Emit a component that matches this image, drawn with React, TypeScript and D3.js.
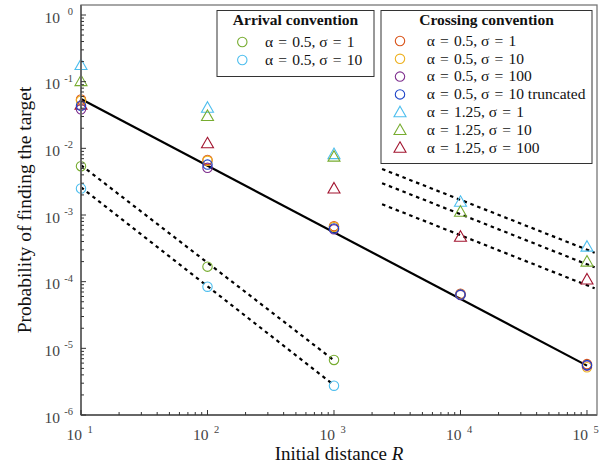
import React from 'react'
import * as d3 from 'd3'

// values
const R = [10, 100, 1000, 10000, 100000]
const R_ARRIVAL = [10, 100, 1000]

const arrivalS1 = [0.0054, 1.68e-4, 6.7e-6]
const arrivalS10 = [0.0025, 8.4e-5, 2.75e-6]

const crossA05S1 = [0.054, 0.0067, 6.8e-4, 6.6e-5, 5.8e-6]
const crossA05S10 = [0.052, 0.0065, 6.6e-4, 6.4e-5, 5.2e-6]
const crossA05S100 = [0.0385, 0.0051, 6.1e-4, 6.3e-5, 5.5e-6]
const crossA05S10trunc = [0.0436, 0.0057, 6.3e-4, 6.4e-5, 5.6e-6]
const crossA125S1 = [0.178, 0.0407, 0.0082, 0.00158, 3.35e-4]
const crossA125S10 = [0.102, 0.0306, 0.0075, 0.00112, 2.0e-4]
const crossA125S100 = [0.045, 0.0119, 0.0025, 4.73e-4, 1.08e-4]

// fitted lines (end points)
const solidR = [10, 100000]
const solidP = [0.055, 5.5e-6]
const arrivalFitR = [10, 1000]
const arrivalFitS1 = [0.0056, 6.6e-6]
const arrivalFitS10 = [0.0026, 2.8e-6]
const crossFitR = [2400, 115000]
const crossFitS1 = [0.0049, 2.72e-4]
const crossFitS10 = [0.003, 1.64e-4]
const crossFitS100 = [0.00145, 7.95e-5]

const X_TICKS = [10, 100, 1000, 10000, 100000]
const X_EXP = ['1', '2', '3', '4', '5']
const Y_TICKS = [1, 1e-1, 1e-2, 1e-3, 1e-4, 1e-5, 1e-6]
const Y_EXP = ['0', '-1', '-2', '-3', '-4', '-5', '-6']

const arrivalLegend = ['α = 0.5, σ = 1', 'α = 0.5, σ = 10']
const crossLegend = [
  'α = 0.5, σ = 1',
  'α = 0.5, σ = 10',
  'α = 0.5, σ = 100',
  'α = 0.5, σ = 10 truncated',
  'α = 1.25, σ = 1',
  'α = 1.25, σ = 10',
  'α = 1.25, σ = 100',
]

const C = {
  orange: '#D95319',
  yellow: '#EDB120',
  purple: '#7E2F8E',
  blue: '#1f45c8',
  lblue: '#4DBEEE',
  green: '#77AC30',
  dred: '#A2142F',
}

const FONT = '"Liberation Serif", "Times New Roman", serif'

// spaced "=" like TeX
const tex = (s: string) => s.replace(/ = /g, '\u2004=\u2004')

const App = () => {
  const width = 613
  const height = 465
  const left = 81, right = 597, top = 5, bottom = 415

  const x = d3.scaleLog().domain([10, 1.2e5]).range([left, right])
  const y = d3.scaleLog().domain([1e-6, Math.pow(10, 0.15)]).range([bottom, top])

  const line = d3.line<[number, number]>().x(d => x(d[0])).y(d => y(d[1]))
  const pairs = (xs: number[], ys: number[]) => xs.map((v, i) => [v, ys[i]] as [number, number])

  const xMinor: number[] = []
  for (let e = 1; e <= 4; e++) for (let k = 2; k <= 9; k++) xMinor.push(k * Math.pow(10, e))
  const yMinor: number[] = []
  for (let e = -6; e <= -1; e++) for (let k = 2; k <= 9; k++) yMinor.push(k * Math.pow(10, e))

  const circle = (cx: number, cy: number, color: string, key: string) => (
    <circle key={key} cx={cx} cy={cy} r={4.7} fill="none" stroke={color} strokeWidth={1.1} />
  )
  const tri = (cx: number, cy: number, color: string, key: string) => {
    const s = 6
    const path = d3.path()
    path.moveTo(cx, cy - s)
    path.lineTo(cx + s, cy + s * 0.75)
    path.lineTo(cx - s, cy + s * 0.75)
    path.closePath()
    return <path key={key} d={path.toString()} fill="none" stroke={color} strokeWidth={1.1} />
  }

  const circleSeries = [
    { data: crossA05S1, color: C.orange },
    { data: crossA05S10, color: C.yellow },
    { data: crossA05S100, color: C.purple },
    { data: crossA05S10trunc, color: C.blue },
  ]
  const triSeries = [
    { data: crossA125S1, color: C.lblue },
    { data: crossA125S10, color: C.green },
    { data: crossA125S100, color: C.dred },
  ]

  const dotted = { fill: 'none', stroke: '#000', strokeWidth: 2.2, strokeDasharray: '3.5,3.8' }

  return (
    <svg width={width} height={height} style={{ position: 'absolute', left: 0, top: 0, background: '#fff' }} fontFamily={FONT}>
      <rect x={0} y={0} width={width} height={height} fill="#fff" />

      {/* fitted lines */}
      <path d={line(pairs(solidR, solidP)) || ''} fill="none" stroke="#000" strokeWidth={2.2} />
      <path d={line(pairs(arrivalFitR, arrivalFitS1)) || ''} {...dotted} />
      <path d={line(pairs(arrivalFitR, arrivalFitS10)) || ''} {...dotted} />
      <path d={line(pairs(crossFitR, crossFitS1)) || ''} {...dotted} />
      <path d={line(pairs(crossFitR, crossFitS10)) || ''} {...dotted} />
      <path d={line(pairs(crossFitR, crossFitS100)) || ''} {...dotted} />

      {/* markers */}
      {R_ARRIVAL.map((r, i) => circle(x(r), y(arrivalS1[i]), C.green, 'ag' + i))}
      {R_ARRIVAL.map((r, i) => circle(x(r), y(arrivalS10[i]), C.lblue, 'ab' + i))}
      {triSeries.map((s, j) => R.map((r, i) => tri(x(r), y(s.data[i]), s.color, `t${j}-${i}`)))}
      {circleSeries.map((s, j) => R.map((r, i) => circle(x(r), y(s.data[i]), s.color, `c${j}-${i}`)))}

      {/* axes box */}
      <rect x={left} y={top} width={right - left} height={bottom - top} fill="none" stroke="#777" strokeWidth={1.3} />
      <line x1={left} x2={left} y1={top} y2={bottom} stroke="#666" strokeWidth={1.8} />
      <line x1={left} x2={right} y1={bottom} y2={bottom} stroke="#666" strokeWidth={1.8} />

      {/* ticks */}
      {X_TICKS.map(t => <line key={'xt' + t} x1={x(t)} x2={x(t)} y1={bottom} y2={bottom - 5} stroke="#333" />)}
      {xMinor.map(t => <line key={'xm' + t} x1={x(t)} x2={x(t)} y1={bottom} y2={bottom - 3} stroke="#333" />)}
      {Y_TICKS.map(t => <line key={'yt' + t} x1={left} x2={left + 5} y1={y(t)} y2={y(t)} stroke="#333" />)}
      {yMinor.map(t => <line key={'ym' + t} x1={left} x2={left + 3} y1={y(t)} y2={y(t)} stroke="#333" />)}

      {/* tick labels */}
      {X_TICKS.map((t, i) => (
        <g key={'xl' + t} fill="#444">
          <text x={x(t) + 1} y={bottom + 25} fontSize={15.5} textAnchor="end">10</text>
          <text x={x(t) + 6.5} y={bottom + 18} fontSize={10.5}>{X_EXP[i]}</text>
        </g>
      ))}
      {Y_TICKS.map((t, i) => (
        <g key={'yl' + t} fill="#444">
          <text x={left - 21} y={y(t) + 7.5} fontSize={15.5} textAnchor="end">10</text>
          <text x={left - 8} y={y(t)} fontSize={10.5} textAnchor="end">{Y_EXP[i]}</text>
        </g>
      ))}

      {/* axis labels */}
      <text x={(left + right) / 2} y={460} fontSize={19} textAnchor="middle" fill="#111">
        Initial distance <tspan fontStyle="italic">R</tspan>
      </text>
      <text transform={`translate(31,${(top + bottom) / 2}) rotate(-90)`} fontSize={19.5} textAnchor="middle" fill="#111">
        Probability of finding the target
      </text>

      {/* arrival legend */}
      <rect x={217} y={10.5} width={157} height={66} fill="#fff" stroke="#333" strokeWidth={1} />
      <text x={295.5} y={25} fontSize={15.5} fontWeight="bold" textAnchor="middle" fill="#111">Arrival convention</text>
      {arrivalLegend.map((s, i) => (
        <g key={'al' + i}>
          {circle(242.3, 42 + i * 18, i === 0 ? C.green : C.lblue, 'alm' + i)}
          <text x={265} y={42 + i * 18 + 4.8} fontSize={15.5} fill="#111">{tex(s)}</text>
        </g>
      ))}

      {/* crossing legend */}
      <rect x={381} y={10.5} width={211} height={153} fill="#fff" stroke="#333" strokeWidth={1} />
      <text x={486.5} y={25} fontSize={15.5} fontWeight="bold" textAnchor="middle" fill="#111">Crossing convention</text>
      {crossLegend.map((s, i) => {
        const cy = 41 + i * 17.8
        const colors = [C.orange, C.yellow, C.purple, C.blue, C.lblue, C.green, C.dred]
        return (
          <g key={'cl' + i}>
            {i < 4 ? circle(400, cy, colors[i], 'clm' + i) : tri(400, cy, colors[i], 'clm' + i)}
            <text x={426.7} y={cy + 4.8} fontSize={15.5} fill="#111">{tex(s)}</text>
          </g>
        )
      })}
    </svg>
  )
}

export default App
